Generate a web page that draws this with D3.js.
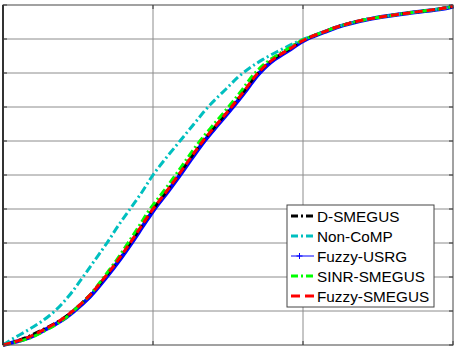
<!DOCTYPE html>
<html>
<head>
<meta charset="utf-8">
<script src="https://cdn.jsdelivr.net/npm/d3@7"></script>
<style>
  body { margin: 0; background: #fff; }
  svg { display: block; }
</style>
</head>
<body>
<svg width="456" height="347"></svg>
<script>
// CDF levels shared by every series
const cdfLevels = [0, 0.015, 0.044, 0.074, 0.103, 0.141, 0.2, 0.25, 0.3, 0.35, 0.4, 0.45, 0.5, 0.55, 0.6, 0.65, 0.7, 0.75, 0.8, 0.84, 0.87, 0.9, 0.92, 0.94, 0.96, 0.976, 0.994, 0.997];

// x value reached by each scheme at those levels
const dSmegus     = [0, 0.113, 0.26, 0.387, 0.473, 0.567, 0.68, 0.767, 0.847, 0.923, 1.0, 1.087, 1.17, 1.25, 1.333, 1.427, 1.523, 1.613, 1.7, 1.8, 1.907, 2.02, 2.133, 2.26, 2.453, 2.693, 2.98, 3.0];
const nonComp     = [0, 0.053, 0.167, 0.273, 0.353, 0.433, 0.533, 0.613, 0.693, 0.767, 0.847, 0.927, 1.0, 1.087, 1.18, 1.273, 1.367, 1.48, 1.6, 1.733, 1.86, 2.007, 2.133, 2.26, 2.453, 2.693, 2.98, 3.0];
const fuzzyUsrg   = [0, 0.13, 0.277, 0.397, 0.483, 0.577, 0.69, 0.777, 0.857, 0.933, 1.01, 1.097, 1.18, 1.26, 1.343, 1.437, 1.533, 1.623, 1.71, 1.81, 1.917, 2.027, 2.14, 2.267, 2.46, 2.7, 2.987, 3.0];
const sinrSmegus  = [0, 0.14, 0.287, 0.4, 0.477, 0.567, 0.673, 0.757, 0.833, 0.907, 0.98, 1.067, 1.15, 1.23, 1.313, 1.407, 1.503, 1.593, 1.68, 1.783, 1.893, 2.013, 2.133, 2.26, 2.453, 2.693, 2.98, 3.0];
const fuzzySmegus = [0, 0.12, 0.267, 0.387, 0.473, 0.567, 0.68, 0.767, 0.847, 0.923, 1.0, 1.087, 1.17, 1.25, 1.333, 1.427, 1.523, 1.613, 1.7, 1.8, 1.907, 2.02, 2.133, 2.26, 2.453, 2.693, 2.98, 3.0];

const legendNames = ["D-SMEGUS", "Non-CoMP", "Fuzzy-USRG", "SINR-SMEGUS", "Fuzzy-SMEGUS"];
const xTicks = [0, 1, 2, 3];
const yTicks = [0, 0.1, 0.2, 0.3, 0.4, 0.5, 0.6, 0.7, 0.8, 0.9, 1];

const svg = d3.select("svg");
const plot = {left: 3, top: 5, right: 453, bottom: 345};

const x = d3.scaleLinear().domain([0, 3]).range([plot.left, plot.right]);
const y = d3.scaleLinear().domain([0, 1]).range([plot.bottom, plot.top]);

// grid
const grid = svg.append("g");
grid.selectAll(".vg")
    .data(xTicks.slice(1, -1))
    .enter().append("line")
    .attr("x1", d => x(d)).attr("x2", d => x(d))
    .attr("y1", plot.top).attr("y2", plot.bottom)
    .attr("stroke", "#8c8c8c").attr("stroke-width", 1);
grid.selectAll(".hg")
    .data(yTicks.slice(1, -1))
    .enter().append("line")
    .attr("x1", plot.left).attr("x2", plot.right)
    .attr("y1", d => y(d)).attr("y2", d => y(d))
    .attr("stroke", "#8c8c8c").attr("stroke-width", 1);

// inward ticks
const ticks = svg.append("g").attr("stroke", "#333").attr("stroke-width", 1);
yTicks.forEach(t => {
    ticks.append("line").attr("x1", plot.left).attr("x2", plot.left + 4).attr("y1", y(t)).attr("y2", y(t));
    ticks.append("line").attr("x1", plot.right).attr("x2", plot.right - 4).attr("y1", y(t)).attr("y2", y(t));
});
xTicks.forEach(t => {
    ticks.append("line").attr("x1", x(t)).attr("x2", x(t)).attr("y1", plot.bottom).attr("y2", plot.bottom - 4);
    ticks.append("line").attr("x1", x(t)).attr("x2", x(t)).attr("y1", plot.top).attr("y2", plot.top + 4);
});

// curves
const line = d3.line()
    .x(d => x(d[0]))
    .y(d => y(d[1]))
    .curve(d3.curveMonotoneY);

const series = [
    {name: "Fuzzy-USRG", xs: fuzzyUsrg, color: "#0000ff", width: 4, dash: null},
    {name: "D-SMEGUS", xs: dSmegus, color: "#000000", width: 3, dash: "8,3,2,3"},
    {name: "Non-CoMP", xs: nonComp, color: "#00bfbf", width: 3, dash: "8,3,2,3"},
    {name: "SINR-SMEGUS", xs: sinrSmegus, color: "#00ff00", width: 3, dash: "8,3,2,3"},
    {name: "Fuzzy-SMEGUS", xs: fuzzySmegus, color: "#ff0000", width: 3, dash: "8,4"}
];

series.forEach(s => {
    const pts = s.xs.map((v, i) => [v, cdfLevels[i]]);
    svg.append("path")
        .datum(pts)
        .attr("fill", "none")
        .attr("stroke", s.color)
        .attr("stroke-width", s.width)
        .attr("stroke-dasharray", s.dash)
        .attr("d", line);
});

// axes box
svg.append("rect")
    .attr("x", plot.left).attr("y", plot.top)
    .attr("width", plot.right - plot.left).attr("height", plot.bottom - plot.top)
    .attr("fill", "none")
    .attr("stroke", "#444")
    .attr("stroke-width", 1);
svg.append("line")
    .attr("x1", plot.left).attr("x2", plot.left).attr("y1", plot.top).attr("y2", plot.bottom)
    .attr("stroke", "#333").attr("stroke-width", 2);

// legend
const legendStyle = {
    "D-SMEGUS": {color: "#000000", dash: "7,3,2,3", width: 3},
    "Non-CoMP": {color: "#00bfbf", dash: "7,3,2,3", width: 3},
    "Fuzzy-USRG": {color: "#0000ff", dash: null, width: 1},
    "SINR-SMEGUS": {color: "#00ff00", dash: "7,3,2,3", width: 3},
    "Fuzzy-SMEGUS": {color: "#ff0000", dash: "9,5", width: 3}
};

const legend = svg.append("g").attr("transform", "translate(287,205)");
legend.append("rect")
    .attr("width", 147).attr("height", 102)
    .attr("fill", "#fff")
    .attr("stroke", "#444")
    .attr("stroke-width", 1);

legendNames.forEach((name, i) => {
    const st = legendStyle[name];
    const ly = 11 + i * 20;
    legend.append("line")
        .attr("x1", 4).attr("x2", 27)
        .attr("y1", ly).attr("y2", ly)
        .attr("stroke", st.color)
        .attr("stroke-width", st.width)
        .attr("stroke-dasharray", st.dash);
    if (name === "Fuzzy-USRG") {
        legend.append("path")
            .attr("d", `M12.5,${ly - 3}V${ly + 3}M9.5,${ly}H15.5`)
            .attr("stroke", st.color)
            .attr("stroke-width", 1);
    }
    legend.append("text")
        .attr("x", 30).attr("y", ly)
        .attr("dy", "0.36em")
        .style("font-family", "'Liberation Sans', Arial, sans-serif")
        .style("font-size", "15.3px")
        .text(name);
});
</script>
</body>
</html>
